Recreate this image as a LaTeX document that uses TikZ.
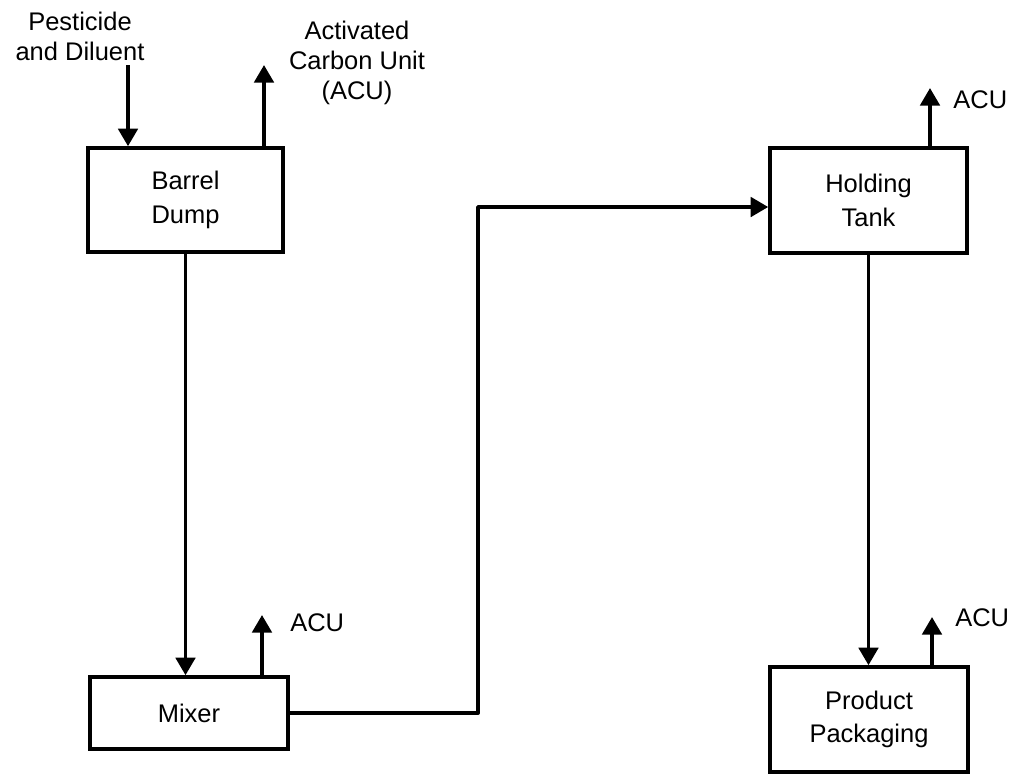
\documentclass[tikz,border=0pt]{standalone}
\usepackage{fontspec}
\setmainfont{Liberation Sans}
\usetikzlibrary{arrows.meta}
\begin{document}
\begin{tikzpicture}[x=0.02cm, y=-0.02cm,
    unit/.style={draw, line width=2pt, align=center, inner sep=0pt,
      font=\fontsize{14.5}{19}\selectfont},
    lbl/.style={align=center, inner sep=0pt, font=\fontsize{14.5}{17}\selectfont},
    flow/.style={line width=2.2pt, line join=round,
      -{Triangle[length=10pt, width=11pt]}}]
    \useasboundingbox (0,0) rectangle (1014,774);

    % Process units
    \node[unit, minimum width=195*0.02cm, minimum height=104*0.02cm] (barrel) at (185.5,200) {Barrel\\Dump};
    \node[unit, minimum width=198*0.02cm, minimum height=72*0.02cm] (mixer) at (189,713) {Mixer};
    \node[unit, minimum width=197*0.02cm, minimum height=105*0.02cm] (tank) at (868.5,200.5) {Holding\\Tank};
    \node[unit, minimum width=198*0.02cm, minimum height=105*0.02cm] (pack) at (869,719.5) {Product\\Packaging};

    % Feed and vent labels
    \node[lbl] (feed) at (80,36) {Pesticide\\and Diluent};
    \node[lbl] (acutop) at (357,63) {Activated\\Carbon Unit\\(ACU)};
    \node[lbl, anchor=west] (acumix) at (290,623) {ACU};
    \node[lbl, anchor=west] (acutank) at (953,100) {ACU};
    \node[lbl, anchor=west] (acupack) at (955,618) {ACU};

    % Arrow ends
    \coordinate (feedin) at (128,65);
    \coordinate (ventbarrel) at (264,65);
    \coordinate (ventmix) at (262,615);
    \coordinate (venttank) at (930,88);
    \coordinate (ventpack) at (932,617);
    \coordinate (bend) at (478,207);

    % Flows
    \draw[flow] (feedin) -- (feedin |- barrel.north);
    \draw[flow] (ventbarrel |- barrel.north) -- (ventbarrel);
    \draw[flow] (barrel.south) -- (barrel.south |- mixer.north);
    \draw[flow] (ventmix |- mixer.north) -- (ventmix);
    \draw[flow] (mixer.east) -| (bend) -- (bend -| tank.west);
    \draw[flow] (venttank |- tank.north) -- (venttank);
    \draw[flow] (tank.south) -- (tank.south |- pack.north);
    \draw[flow] (ventpack |- pack.north) -- (ventpack);

  \end{tikzpicture}
\end{document}
